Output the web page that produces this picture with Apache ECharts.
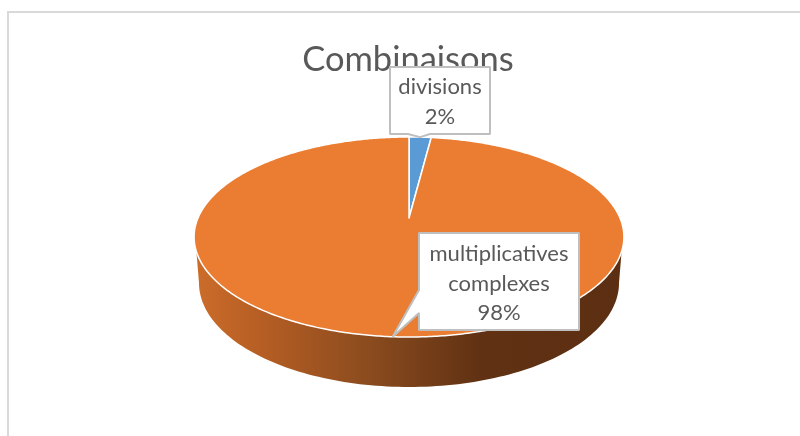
<!DOCTYPE html>
<html>
<head>
<meta charset="utf-8">
<style>html,body{margin:0;padding:0;background:#fff}#c{width:800px;height:436px}</style>
<script src="https://cdn.jsdelivr.net/npm/echarts@6/dist/echarts.min.js"></script>
</head>
<body>
<div id="c"></div>
<script>
var chartTitle = 'Combinaisons';
var categories = ['divisions', 'multiplicatives\ncomplexes'];
var values = [2, 98];
var colors = ['#5b9bd5', '#ea7d32'];

// Perspective disc: maps a slice angle onto the tilted ellipse
var PIE = { cx: 409, apexY: 218, k: 211, a: -55, c: 0.19 };
var SIDE = { cy: 237, rx: 215, ry: 100, lowCy: 283, lowRx: 210, lowRy: 104, startDy: 15 };
var BOXES = [
  { x: 390, y: 67, w: 100, h: 67, tailA: [430, 134], tailB: [408, 134], lh: 30, ty: 102 },
  { x: 419, y: 233, w: 160, h: 97, tailA: [419, 313], tailB: [419, 290], lh: 29.5, ty: 283.5 }
];

var total = values.reduce(function (s, v) { return s + v; }, 0);
function rim(theta) {
  var u = Math.sin(theta), v = Math.cos(theta), d = PIE.c * v + 1;
  return [PIE.cx + PIE.k * u / d, (PIE.a * v + PIE.apexY) / d];
}
function sliceAngles(i) {
  var before = 0;
  for (var j = 0; j < i; j++) before += values[j];
  return [before / total * 2 * Math.PI, (before + values[i]) / total * 2 * Math.PI];
}
function renderSide() {
  var pts = [], n = 120, t0 = Math.asin(SIDE.startDy / SIDE.ry), i, t;
  for (i = 0; i <= n; i++) {
    t = t0 + (Math.PI - 2 * t0) * i / n;
    pts.push([PIE.cx + SIDE.rx * Math.cos(t), SIDE.cy + SIDE.ry * Math.sin(t)]);
  }
  for (i = n; i >= 0; i--) {
    t = Math.PI * i / n;
    pts.push([PIE.cx + SIDE.lowRx * Math.cos(t), SIDE.lowCy + SIDE.lowRy * Math.sin(t)]);
  }
  return {
    type: 'polygon', shape: { points: pts },
    style: {
      fill: new echarts.graphic.LinearGradient(0, 0, 1, 0, [
        { offset: 0, color: '#cb6c2a' },
        { offset: 0.15, color: '#b65e24' },
        { offset: 0.41, color: '#8a4b1e' },
        { offset: 0.67, color: '#603113' },
        { offset: 1, color: '#5d2f12' }
      ])
    }
  };
}
function renderSlice(params) {
  var a = sliceAngles(params.dataIndex), pts = [[PIE.cx, PIE.apexY]];
  var n = Math.max(4, Math.ceil((a[1] - a[0]) / 0.01));
  for (var i = 0; i <= n; i++) pts.push(rim(a[0] + (a[1] - a[0]) * i / n));
  return {
    type: 'polygon', shape: { points: pts },
    style: { fill: colors[params.dataIndex], stroke: '#fff', lineWidth: 1.5, lineJoin: 'round' }
  };
}
function renderCallout(params) {
  var i = params.dataIndex, b = BOXES[i], a = sliceAngles(i), tip = rim((a[0] + a[1]) / 2);
  var pts = i === 0
    ? [[b.x, b.y], [b.x + b.w, b.y], [b.x + b.w, b.y + b.h], b.tailA, tip, b.tailB, [b.x, b.y + b.h]]
    : [[b.x, b.y], [b.x + b.w, b.y], [b.x + b.w, b.y + b.h], [b.x, b.y + b.h], b.tailA, tip, b.tailB];
  return {
    type: 'group',
    children: [
      { type: 'polygon', shape: { points: pts }, style: { fill: '#fff', stroke: '#bfbfbf', lineWidth: 2, lineJoin: 'bevel' } },
      {
        type: 'text',
        style: {
          x: b.x + b.w / 2, y: b.ty,
          text: categories[i] + '\n' + values[i] + '%',
          fill: '#595959', font: '22px Lato', align: 'center', verticalAlign: 'middle',
          lineHeight: b.lh
        }
      }
    ]
  };
}

var chart = echarts.init(document.getElementById('c'), null, { renderer: 'canvas' });
chart.setOption({
  animation: false,
  backgroundColor: '#fff',
  title: {
    text: chartTitle, left: 403, top: 37, textAlign: 'center', z: 0,
    textStyle: { fontFamily: 'Lato', fontSize: 34.5, fontWeight: 'normal', color: '#595959' }
  },
  graphic: [{
    type: 'polyline', z: 0,
    shape: { points: [[8, 436], [8, 12], [800, 12]] },
    style: { stroke: '#d9d9d9', lineWidth: 2, fill: null }
  }],
  series: [
    { type: 'custom', coordinateSystem: 'none', z: 2, silent: true, data: [total], renderItem: renderSide },
    { type: 'custom', coordinateSystem: 'none', z: 3, silent: true, data: values, renderItem: renderSlice },
    { type: 'custom', coordinateSystem: 'none', z: 4, silent: true, data: values, renderItem: renderCallout }
  ]
});
</script>
</body>
</html>
